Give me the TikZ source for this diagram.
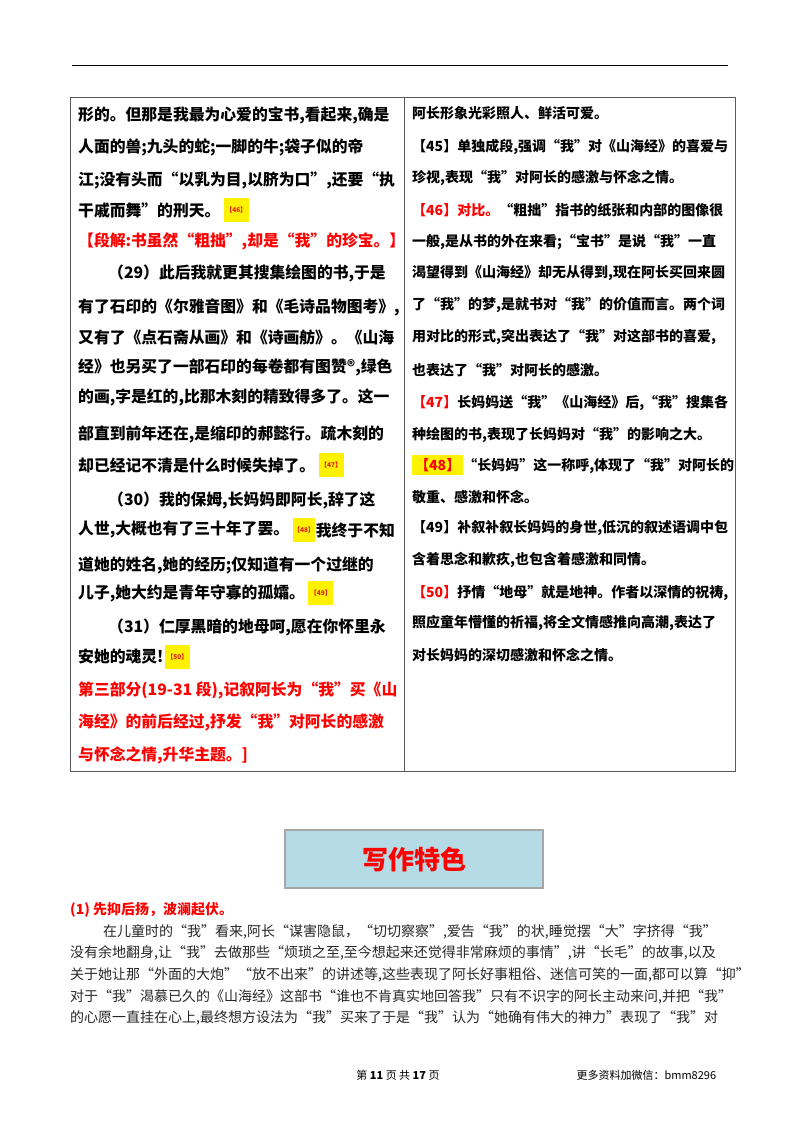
\documentclass[tikz,border=0pt]{standalone}
\usepackage{fontspec}
\setmainfont{Liberation Serif}
\newfontfamily\cjk{Noto Sans CJK SC}
\usetikzlibrary{positioning}
\usetikzlibrary{shadows}

\definecolor{boxblue}{HTML}{B5DCE6}
\definecolor{tagred}{HTML}{E8141B}

\tikzset{
  lline/.style={anchor=west, inner sep=0pt, font=\cjk\bfseries\fontsize{15.8}{16}\selectfont},
  rline/.style={anchor=west, inner sep=0pt, font=\cjk\bfseries\fontsize{14}{15}\selectfont},
  bline/.style={anchor=west, inner sep=0pt, font=\cjk\fontsize{14}{14}\selectfont, text=black!85},
  tag/.style={fill=yellow, inner sep=2pt, minimum height=24pt, text=tagred, font=\cjk\bfseries\fontsize{6.5}{6.5}\selectfont, right=3pt},
}

\begin{document}
\begin{tikzpicture}[x=1pt, y=-1pt]
  \useasboundingbox (0,0) rectangle (800,1132);
  \draw[thick] (72,65) -- (728,65);
  % table
  \draw[gray!70!black, line width=0.8pt] (70,97) rectangle (735,771);
  \draw[gray!70!black, line width=0.8pt] (404,97) -- (404,771);

  % left column
  \node[lline] (l1)  at (78,115) {形的。但那是我最为心爱的宝书,看起来,确是};
  \node[lline] (l2)  at (78,147) {人面的兽;九头的蛇;一脚的牛;袋子似的帝};
  \node[lline] (l3)  at (78,180) {江;没有头而“以乳为目,以脐为口”,还要“执};
  \node[lline] (l4)  at (78,210) {干戚而舞”的刑天。};
  \node[tag] (t46) at (l4.east) {【46】};
  \node[lline, text=red] (l5) at (78,241) {【段解:书虽然“粗拙”,却是“我”的珍宝。】};
  \node[lline] (l6)  at (108,273) {（29）此后我就更其搜集绘图的书,于是};
  \node[lline] (l7)  at (78,307) {有了石印的《尔雅音图》和《毛诗品物图考》,};
  \node[lline] (l8)  at (78,337) {又有了《点石斋从画》和《诗画舫》。《山海};
  \node[lline] (l9)  at (78,367) {经》也另买了一部石印的每卷都有图赞®,绿色};
  \node[lline] (l10) at (78,397) {的画,字是红的,比那木刻的精致得多了。这一};
  \node[lline] (l11) at (78,434) {部直到前年还在,是缩印的郝懿行。疏木刻的};
  \node[lline] (l12) at (78,465) {却已经记不清是什么时候失掉了。};
  \node[tag] (t47) at (l12.east) {【47】};
  \node[lline] (l13) at (108,500) {（30）我的保姆,长妈妈即阿长,辞了这};
  \node[lline] (l14) at (78,530) {人世,大概也有了三十年了罢。};
  \node[tag, inner sep=1pt] (t48) at (l14.east) {【48】};
  \node[lline, right=0pt of t48] (l14b) {我终于不知};
  \node[lline] (l15) at (78,565) {道她的姓名,她的经历;仅知道有一个过继的};
  \node[lline] (l16) at (78,593) {儿子,她大约是青年守寡的孤孀。};
  \node[tag] (t49) at (l16.east) {【49】};
  \node[lline] (l17) at (108,627) {（31）仁厚黑暗的地母呵,愿在你怀里永};
  \node[lline] (l18) at (78,657) {安她的魂灵!};
  \node[tag, right=1pt] (t50) at (l18.east) {【50】};
  \node[lline, text=red] (l19) at (78,690) {第三部分(19-31 段),记叙阿长为“我”买《山};
  \node[lline, text=red] (l20) at (78,722) {海经》的前后经过,抒发“我”对阿长的感激};
  \node[lline, text=red] (l21) at (78,755) {与怀念之情,升华主题。]};

  % right column
  \node[rline] (r1)  at (412,113) {阿长形象光彩照人、鲜活可爱。};
  \node[rline] (r2)  at (412,147) {【45】单独成段,强调“我”对《山海经》的喜爱与};
  \node[rline] (r3)  at (412,178) {珍视,表现“我”对阿长的感激与怀念之情。};
  \node[rline] (r4)  at (412,210) {\textcolor{red}{【46】对比。}“粗拙”指书的纸张和内部的图像很};
  \node[rline] (r5)  at (412,242) {一般,是从书的外在来看;“宝书”是说“我”一直};
  \node[rline] (r6)  at (412,273) {渴望得到《山海经》却无从得到,现在阿长买回来圆};
  \node[rline] (r7)  at (412,305) {了“我”的梦,是就书对“我”的价值而言。两个词};
  \node[rline] (r8)  at (412,337) {用对比的形式,突出表达了“我”对这部书的喜爱,};
  \node[rline] (r9)  at (412,370) {也表达了“我”对阿长的感激。};
  \node[rline] (r10) at (412,403) {\textcolor{red}{【47】}长妈妈送“我”《山海经》后,“我”搜集各};
  \node[rline] (r11) at (412,435) {种绘图的书,表现了长妈妈对“我”的影响之大。};
  \node[rline] (r12) at (412,465) {\colorbox{yellow}{\textcolor{red}{【48】}}“长妈妈”这一称呼,体现了“我”对阿长的};
  \node[rline] (r13) at (412,497) {敬重、感激和怀念。};
  \node[rline] (r14) at (412,528) {【49】补叙补叙长妈妈的身世,低沉的叙述语调中包};
  \node[rline] (r15) at (412,560) {含着思念和歉疚,也包含着感激和同情。};
  \node[rline] (r16) at (412,593) {\textcolor{red}{【50】}抒情“地母”就是地神。作者以深情的祝祷,};
  \node[rline] (r17) at (412,623) {照应童年懵懂的祈福,将全文情感推向高潮,表达了};
  \node[rline] (r18) at (412,655) {对长妈妈的深切感激和怀念之情。};

  % writing features
  \node[fill=boxblue, draw=gray!70, line width=1.2pt, drop shadow={shadow xshift=1pt, shadow yshift=-1pt, opacity=0.5},
        minimum width=258pt, minimum height=58pt, text=red,
        font=\cjk\bfseries\fontsize{26}{26}\selectfont] (title) at (414,859) {写作特色};
  \node[anchor=west, inner sep=0pt, text=red, font=\cjk\bfseries\fontsize{14}{14}\selectfont] (h1) at (70,910) {(1) 先抑后扬，波澜起伏。};
  \node[bline] (b1) at (103,932) {在儿童时的“我”看来,阿长“谋害隐鼠，“切切察察”,爱告“我”的状,睡觉摆“大”字挤得“我”};
  \node[bline] (b2) at (70,953) {没有余地翻身,让“我”去做那些“烦琐之至,至今想起来还觉得非常麻烦的事情”,讲“长毛”的故事,以及};
  \node[bline] (b3) at (70,975) {关于她让那“外面的大炮”“放不出来”的讲述等,这些表现了阿长好事粗俗、迷信可笑的一面,都可以算“抑”};
  \node[bline] (b4) at (70,997) {对于“我”渴慕已久的《山海经》这部书“谁也不肯真实地回答我”只有不识字的阿长主动来问,并把“我”};
  \node[bline] (b5) at (70,1018) {的心愿一直挂在心上,最终想方设法为“我”买来了于是“我”认为“她确有伟大的神力”表现了“我”对};

  % footer
  \node[font=\cjk\fontsize{11}{11}\selectfont] (page) at (398,1075) {第\ \textbf{11}\ 页\ 共\ \textbf{17}\ 页};
  \node[anchor=west, font=\cjk\fontsize{11}{11}\selectfont] (wx) at (573,1075) {更多资料加微信：bmm8296};
\end{tikzpicture}
\end{document}
